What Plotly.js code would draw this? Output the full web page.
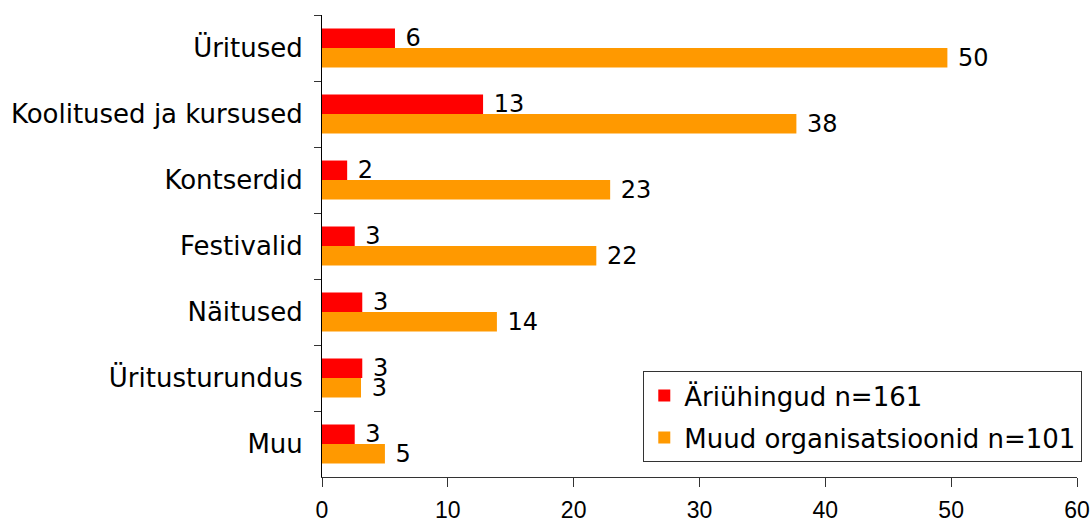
<!DOCTYPE html>
<html>
<head>
<meta charset="utf-8">
<script src="https://cdn.plot.ly/plotly-3.0.1.min.js"></script>
<style>
  html, body { margin: 0; padding: 0; background: #ffffff; }
  #chart { width: 1091px; height: 523px; }
</style>
</head>
<body>
<div id="chart"></div>
<script>
const categories = ["Üritused", "Koolitused ja kursused", "Kontserdid", "Festivalid", "Näitused", "Üritusturundus", "Muu"];
const ariValues = [5.8, 12.8, 2.0, 2.6, 3.2, 3.2, 2.6];
const ariLabels = ["6", "13", "2", "3", "3", "3", "3"];
const muudValues = [49.7, 37.7, 22.9, 21.8, 13.9, 3.1, 5.0];
const muudLabels = ["50", "38", "23", "22", "14", "3", "5"];
const seriesNames = ["Äriühingud n=161", "Muud organisatsioonid n=101"];
const xTicks = [0, 10, 20, 30, 40, 50, 60];

const labelFont = { family: "DejaVu Sans, Verdana, sans-serif", size: 24, color: "#000000" };

const traces = [
  {
    type: "bar", orientation: "h",
    name: seriesNames[0], legendgroup: "a",
    y: categories, x: ariValues,
    text: ariLabels, texttemplate: "\u00a0%{text}",
    textposition: "outside", constraintext: "none", cliponaxis: false,
    textfont: labelFont,
    marker: { color: "#FF0000", line: { width: 0 } },
    hoverinfo: "none"
  },
  {
    type: "bar", orientation: "h",
    name: seriesNames[1], legendgroup: "b",
    y: categories, x: muudValues,
    text: muudLabels, texttemplate: "\u00a0%{text}",
    textposition: "outside", constraintext: "none", cliponaxis: false,
    textfont: labelFont,
    marker: { color: "#FF9900", line: { width: 0 } },
    hoverinfo: "none"
  }
];

const layout = {
  width: 1091, height: 523,
  margin: { l: 322, r: 14, t: 15, b: 46, pad: 0, autoexpand: false },
  paper_bgcolor: "#ffffff", plot_bgcolor: "#ffffff",
  barmode: "group", bargap: 0.41, bargroupgap: 0,
  showlegend: true,
  legend: {
    x: 1.007, xanchor: "right", y: 0.032, yanchor: "bottom",
    bgcolor: "#ffffff", bordercolor: "#333333", borderwidth: 1,
    font: { family: "DejaVu Sans, Verdana, sans-serif", size: 26, color: "#000000" },
    traceorder: "grouped", tracegroupgap: 5
  },
  xaxis: {
    range: [0, 60], tickvals: xTicks, ticktext: xTicks.map(String),
    showgrid: false, zeroline: false,
    showline: true, linecolor: "#333333", linewidth: 1,
    ticks: "outside", ticklen: 9, tickcolor: "#333333", tickwidth: 1,
    ticklabelstandoff: 3,
    tickfont: { family: "Liberation Sans, Arial, sans-serif", size: 23, color: "#000000" },
    fixedrange: true
  },
  yaxis: {
    type: "category", autorange: "reversed",
    showgrid: false, zeroline: false,
    showline: true, linecolor: "#000000", linewidth: 1,
    ticks: "outside", tickson: "boundaries", ticklen: 7, tickcolor: "#333333", tickwidth: 1,
    ticklabelstandoff: 13,
    tickfont: { family: "DejaVu Sans, Verdana, sans-serif", size: 26, color: "#000000" },
    fixedrange: true
  }
};

Plotly.newPlot("chart", traces, layout, { displayModeBar: false, staticPlot: true });
</script>
</body>
</html>
